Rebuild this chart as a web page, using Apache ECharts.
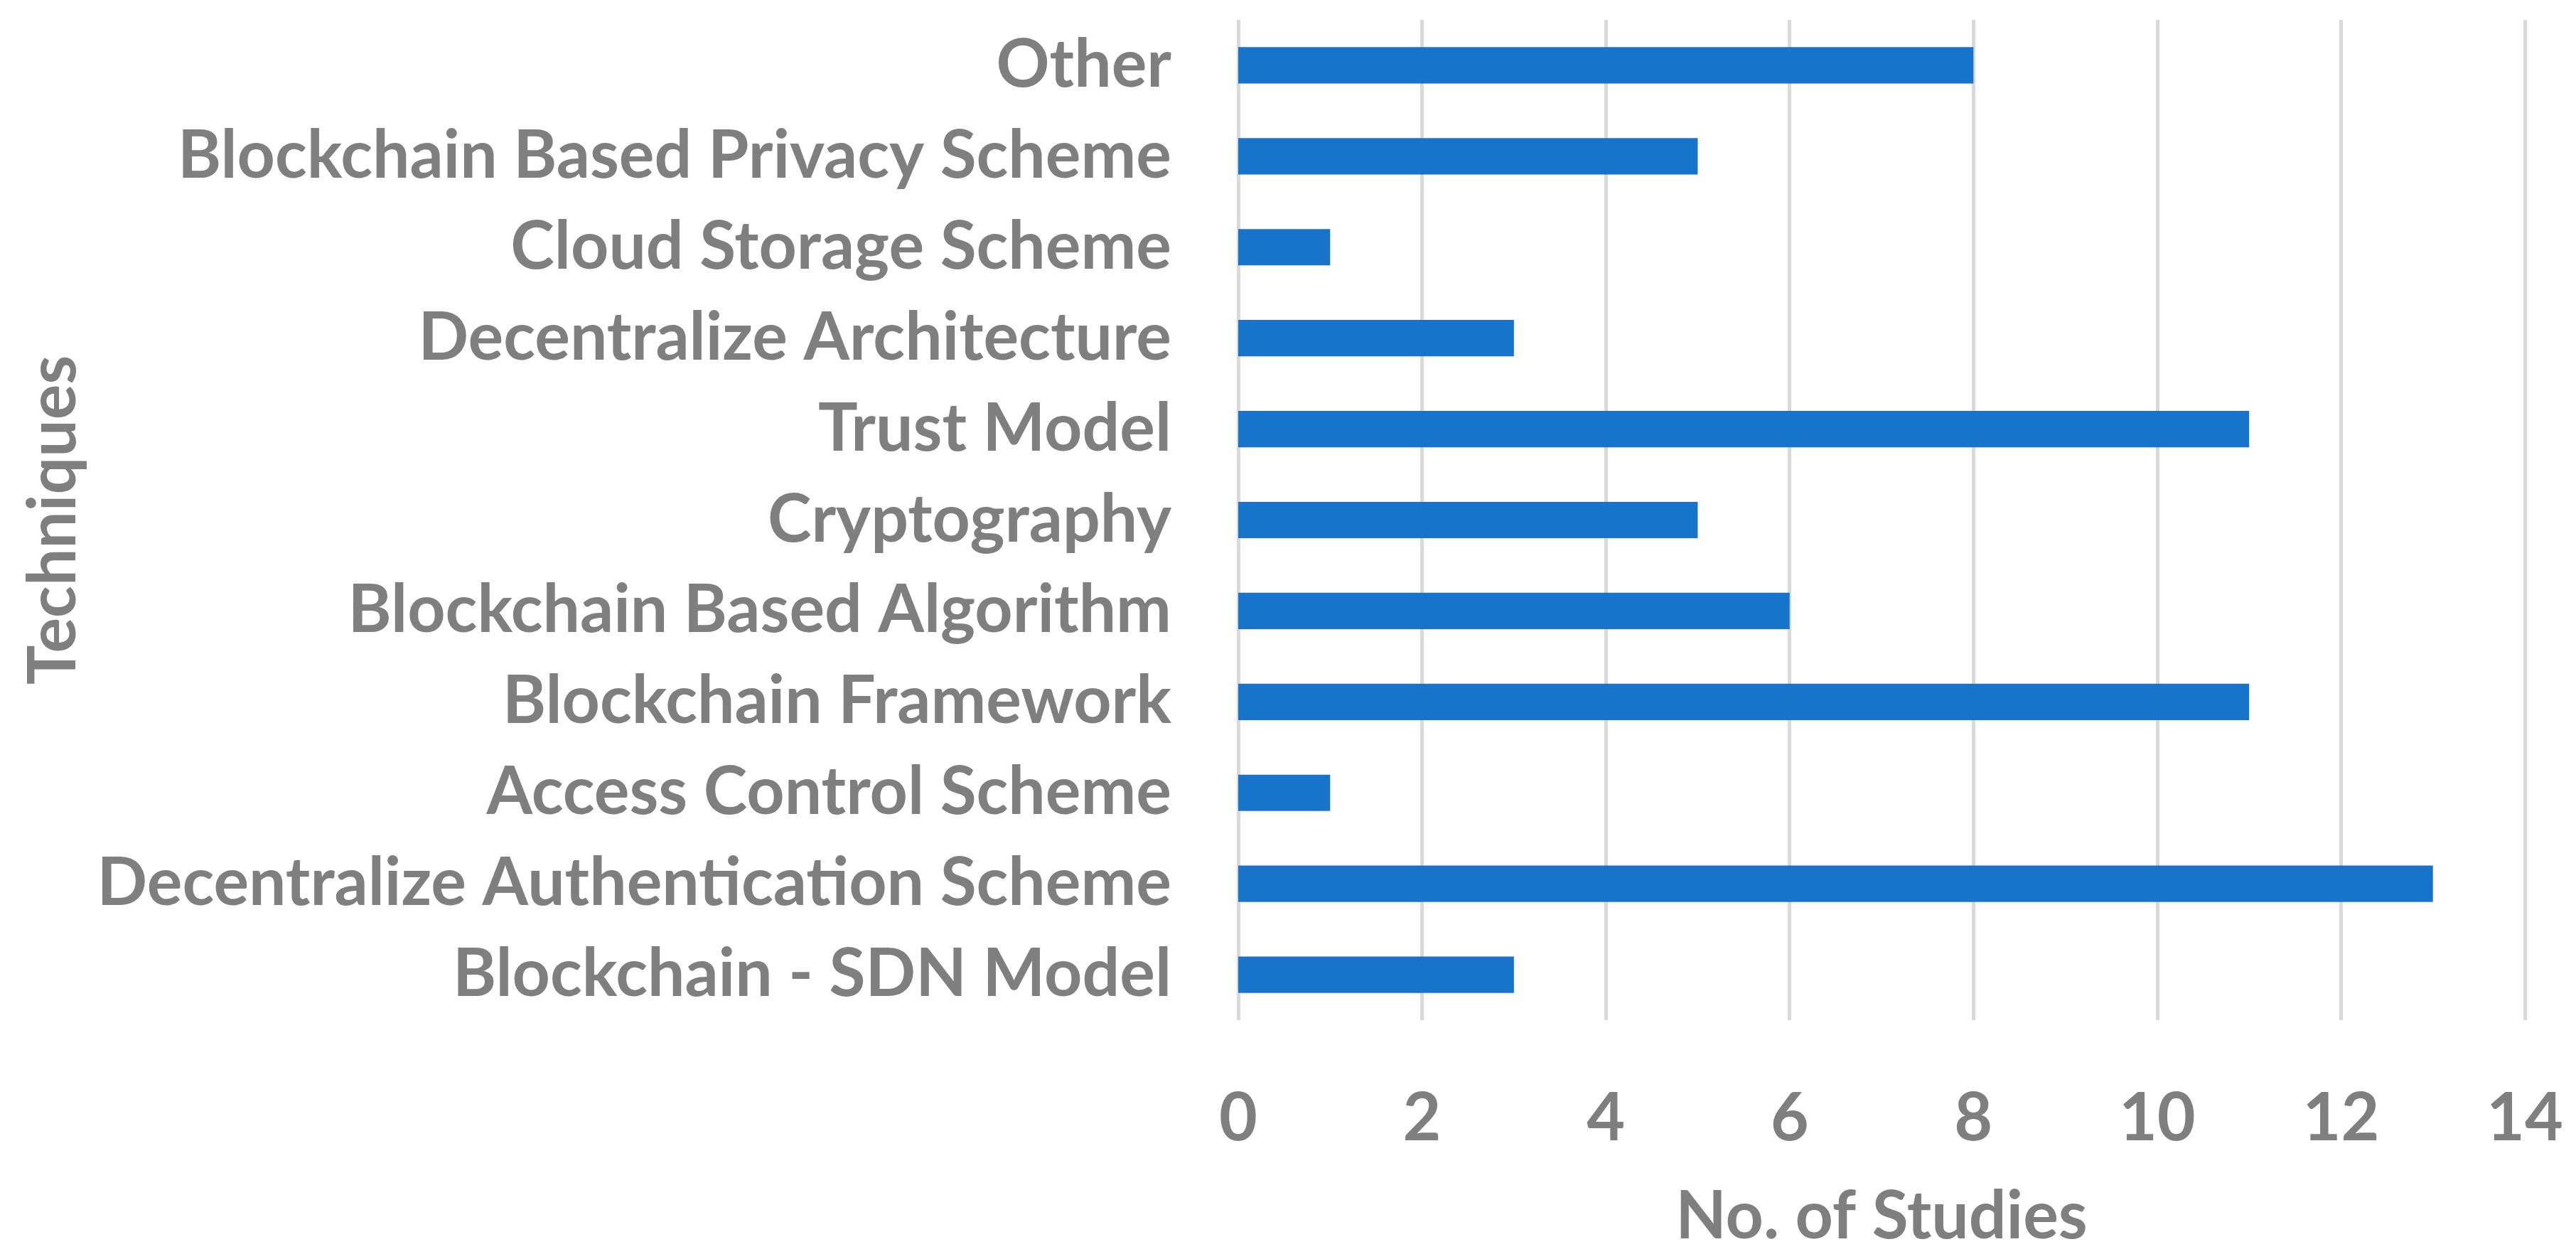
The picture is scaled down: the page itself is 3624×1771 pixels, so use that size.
<!DOCTYPE html>
<html>
<head>
<meta charset="utf-8">
<script src="https://cdn.jsdelivr.net/npm/echarts@6/dist/echarts.min.js"></script>
<style>
html,body{margin:0;padding:0;background:#fff;}
#chart{width:3624px;height:1771px;}
</style>
</head>
<body>
<div id="chart"></div>
<script>
const categories = [
  "Blockchain - SDN Model",
  "Decentralize Authentication Scheme",
  "Access Control Scheme",
  "Blockchain Framework",
  "Blockchain Based Algorithm",
  "Cryptography",
  "Trust Model",
  "Decentralize Architecture",
  "Cloud Storage Scheme",
  "Blockchain Based Privacy Scheme",
  "Other"
];
const studies = [3, 13, 1, 11, 6, 5, 11, 3, 1, 5, 8];
const xTicks = { min: 0, max: 14, interval: 2 };
const xTitle = "No. of Studies";
const yTitle = "Techniques";

const FONT = "Lato";
const FS = 93;
const GREY = "#7F7F7F";
const chart = echarts.init(document.getElementById('chart'), null, {renderer: 'canvas'});
chart.setOption({
  backgroundColor: '#ffffff',
  animation: false,
  grid: { left: 1742, right: 72, top: 28, bottom: 336, containLabel: false },
  xAxis: {
    type: 'value',
    min: xTicks.min, max: xTicks.max, interval: xTicks.interval,
    name: xTitle, nameLocation: 'middle', nameGap: 230,
    nameTextStyle: { color: GREY, fontFamily: FONT, fontWeight: 'bold', fontSize: FS },
    axisLine: { show: false }, axisTick: { show: false },
    axisLabel: { color: GREY, fontFamily: FONT, fontWeight: 'bold', fontSize: FS, margin: 92 },
    splitLine: { show: true, lineStyle: { color: '#D9D9D9', width: 5 } }
  },
  yAxis: {
    type: 'category', data: categories,
    name: yTitle, nameLocation: 'middle', nameGap: 1620, nameRotate: 90,
    nameTextStyle: { color: GREY, fontFamily: FONT, fontWeight: 'bold', fontSize: FS },
    axisLine: { show: false }, axisTick: { show: false },
    axisLabel: { color: GREY, fontFamily: FONT, fontWeight: 'bold', fontSize: FS, margin: 94 },
    splitLine: { show: false }
  },
  series: [{
    type: 'bar', data: studies, barWidth: '40%',
    itemStyle: { color: '#1874CA' }
  }]
});
</script>
</body>
</html>
